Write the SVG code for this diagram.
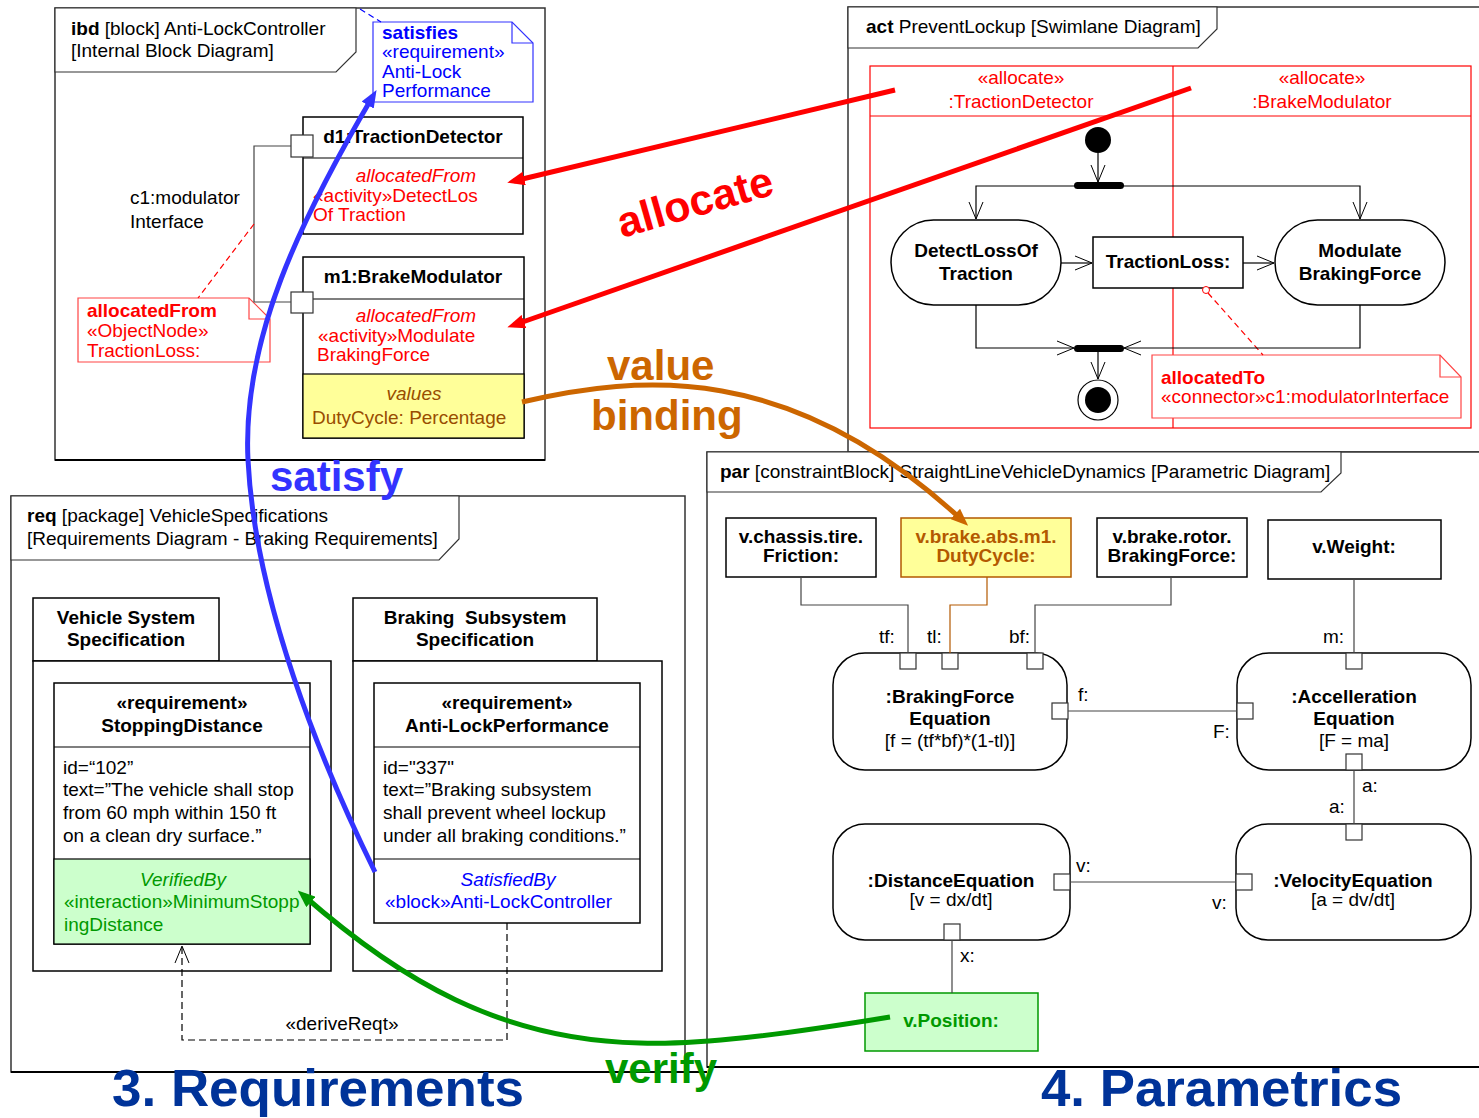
<svg xmlns="http://www.w3.org/2000/svg" width="1479" height="1118" viewBox="0 0 1479 1118">
  <defs>
    <style>
      text { font-family: "Liberation Sans", Arial, sans-serif; font-size: 19px; fill: #000; }
      .b { font-weight: bold; }
      .i { font-style: italic; }
      .c { text-anchor: middle; }
      .red { fill: #ff0000; }
      .blue { fill: #0000ff; }
      .green { fill: #009900; }
      .brown { fill: #994d00; }
      .frame { fill: #fff; stroke: #333; stroke-width: 1.5; }
      .tab { fill: #fff; stroke: #333; stroke-width: 1.2; }
      .box { fill: #fff; stroke: #000; stroke-width: 1.5; }
      .sep { stroke: #000; stroke-width: 1.2; fill: none; }
      .port { fill: #fff; stroke: #333; stroke-width: 1.2; }
      .wire { fill: none; stroke: #444; stroke-width: 1.2; }
      .flow { fill: none; stroke: #000; stroke-width: 1.2; }
      .big { font-weight: bold; }
    </style>
    <marker id="open" viewBox="-1 -8 19 16" refX="17" refY="0" markerWidth="19" markerHeight="16" markerUnits="userSpaceOnUse" orient="auto">
      <path d="M0,-7 L17,0 L0,7" fill="none" stroke="#000" stroke-width="1" stroke-dasharray="none"/>
    </marker>
    <marker id="ar-red" viewBox="0 0 10 8" refX="6" refY="4" markerWidth="3.5" markerHeight="2.8" orient="auto">
      <path d="M0,0 L10,4 L0,8 z" fill="#ff0000"/>
    </marker>
    <marker id="ar-orange" viewBox="0 0 10 8" refX="6" refY="4" markerWidth="3.5" markerHeight="2.8" orient="auto">
      <path d="M0,0 L10,4 L0,8 z" fill="#cc6600"/>
    </marker>
    <marker id="ar-blue" viewBox="0 0 10 8" refX="6" refY="4" markerWidth="3.5" markerHeight="2.8" orient="auto">
      <path d="M0,0 L10,4 L0,8 z" fill="#3333ff"/>
    </marker>
    <marker id="ar-green" viewBox="0 0 10 8" refX="6" refY="4" markerWidth="3.5" markerHeight="2.8" orient="auto">
      <path d="M0,0 L10,4 L0,8 z" fill="#009900"/>
    </marker>
  </defs>

  <rect width="1479" height="1118" fill="#fff"/>

  <!-- ===== Activity diagram frame ===== -->
  <g id="act-frame">
    <rect class="frame" x="848" y="7" width="660" height="445"/>
    <path class="tab" d="M848,7 H1217 V29 L1198,48 H848 Z"/>
    <text x="866" y="33"><tspan class="b">act</tspan> PreventLockup [Swimlane Diagram]</text>
  </g>

  <!-- swimlanes -->
  <g id="swimlanes">
    <rect x="870" y="66" width="601" height="362" fill="none" stroke="#ff0000" stroke-width="1.2"/>
    <line x1="870" y1="116" x2="1471" y2="116" stroke="#ff0000" stroke-width="1"/>
    <line x1="1173" y1="66" x2="1173" y2="428" stroke="#ff0000" stroke-width="1.2"/>
    <text class="c red" x="1021" y="84">«allocate»</text>
    <text class="c red" x="1021" y="108">:TractionDetector</text>
    <text class="c red" x="1322" y="84">«allocate»</text>
    <text class="c red" x="1322" y="108">:BrakeModulator</text>
  </g>

  <!-- ===== Internal block diagram frame ===== -->
  <g id="ibd-frame">
    <rect class="frame" x="55" y="8" width="490" height="452"/>
    <line x1="55" y1="460" x2="545" y2="460" stroke="#000" stroke-width="2"/>
    <path class="tab" d="M55,8 H356 V52 L336,72 H55 Z"/>
    <text x="71" y="35"><tspan class="b">ibd</tspan> [block] Anti-LockController</text>
    <text x="71" y="57">[Internal Block Diagram]</text>
  </g>

  <!-- ===== Requirements frame ===== -->
  <g id="req-frame">
    <rect class="frame" x="11" y="496" width="674" height="576"/>
    <line x1="11" y1="1072" x2="707" y2="1072" stroke="#000" stroke-width="2"/>
    <path class="tab" d="M11,496 H459 V539 L439,560 H11 Z"/>
    <text x="27" y="522"><tspan class="b">req</tspan> [package] VehicleSpecifications</text>
    <text x="27" y="545">[Requirements Diagram - Braking Requirements]</text>
  </g>

  <!-- ===== Parametric frame ===== -->
  <g id="par-frame">
    <rect class="frame" x="707" y="452" width="800" height="615"/>
    <line x1="707" y1="1067" x2="1479" y2="1067" stroke="#000" stroke-width="2"/>
    <path class="tab" d="M707,452 H1341 V473 L1321,492 H707 Z"/>
    <text x="720" y="478"><tspan class="b">par</tspan> [constraintBlock] StraightLineVehicleDynamics [Parametric Diagram]</text>
  </g>

  <!-- ===== IBD nodes ===== -->
  <g id="satisfies-note">
    <path d="M373,22 H512 L533,43 V102 H373 Z" fill="#fff" stroke="#3333ff" stroke-width="1.2"/>
    <path d="M512,22 V43 H533" fill="none" stroke="#3333ff" stroke-width="1.2"/>
    <text class="b blue" x="382" y="39">satisfies</text>
    <text class="blue" x="382" y="58">«requirement»</text>
    <text class="blue" x="382" y="78">Anti-Lock</text>
    <text class="blue" x="382" y="97">Performance</text>
  </g>

  <g id="d1-traction-detector">
    <rect class="box" x="303" y="117" width="220" height="117"/>
    <line class="sep" x1="303" y1="158" x2="523" y2="158"/>
    <text class="b c" x="413" y="143">d1:TractionDetector</text>
    <text class="i c red" x="416" y="182">allocatedFrom</text>
    <text class="red" x="313" y="202">«activity»DetectLos</text>
    <text class="red" x="313" y="221">Of Traction</text>
    <rect class="port" x="291" y="135" width="22" height="22"/>
  </g>

  <g id="m1-brake-modulator">
    <rect class="box" x="303" y="257" width="221" height="181"/>
    <rect x="303" y="374" width="221" height="64" fill="#ffff99" stroke="#000" stroke-width="1.2"/>
    <line class="sep" x1="303" y1="299" x2="524" y2="299"/>
    <text class="b c" x="413" y="283">m1:BrakeModulator</text>
    <text class="i c red" x="416" y="322">allocatedFrom</text>
    <text class="red" x="318" y="342">«activity»Modulate</text>
    <text class="red" x="317" y="361">BrakingForce</text>
    <text class="i c brown" x="414" y="400">values</text>
    <text class="brown" x="312" y="424">DutyCycle: Percentage</text>
    <rect class="port" x="291" y="292" width="22" height="21"/>
  </g>

  <g id="c1-label">
    <text x="130" y="204">c1:modulator</text>
    <text x="130" y="228">Interface</text>
  </g>

  <g id="allocatedfrom-note">
    <path d="M78,298 H249 L270,319 V362 H78 Z" fill="#fff" stroke="#ff4444" stroke-width="1.2"/>
    <path d="M249,298 V319 H270" fill="none" stroke="#ff4444" stroke-width="1.2"/>
    <text class="b red" x="87" y="317">allocatedFrom</text>
    <text class="red" x="87" y="337">«ObjectNode»</text>
    <text class="red" x="87" y="357">TractionLoss:</text>
  </g>

  <!-- ===== Activity nodes ===== -->
  <g id="initial-node">
    <circle cx="1098" cy="140" r="13" fill="#000"/>
  </g>
  <g id="fork-bar">
    <rect x="1074" y="182" width="50" height="7" rx="3.5" fill="#000"/>
  </g>
  <g id="detect-loss-of-traction">
    <rect class="box" x="891" y="220" width="170" height="85" rx="42.5"/>
    <text class="b c" x="976" y="257">DetectLossOf</text>
    <text class="b c" x="976" y="280">Traction</text>
  </g>
  <g id="traction-loss">
    <rect class="box" x="1093" y="237" width="150" height="51"/>
    <text class="b c" x="1168" y="268">TractionLoss:</text>
  </g>
  <g id="modulate-braking-force">
    <rect class="box" x="1275" y="220" width="170" height="85" rx="42.5"/>
    <text class="b c" x="1360" y="257">Modulate</text>
    <text class="b c" x="1360" y="280">BrakingForce</text>
  </g>
  <g id="join-bar">
    <rect x="1074" y="345" width="50" height="7" rx="3.5" fill="#000"/>
  </g>
  <g id="final-node">
    <circle cx="1098" cy="400" r="20" fill="#fff" stroke="#000" stroke-width="1.2"/>
    <circle cx="1098" cy="400" r="13" fill="#000"/>
  </g>
  <g id="allocatedto-note">
    <path d="M1152,355 H1440 L1461,377 V418 H1152 Z" fill="#fff" stroke="#ff4444" stroke-width="1.2"/>
    <path d="M1440,355 V377 H1461" fill="none" stroke="#ff4444" stroke-width="1.2"/>
    <text class="b red" x="1161" y="384">allocatedTo</text>
    <text class="red" x="1161" y="403">«connector»c1:modulatorInterface</text>
  </g>

  <!-- ===== Parametric nodes ===== -->
  <g id="v-friction">
    <rect class="box" x="726" y="518" width="150" height="59"/>
    <text class="b c" x="801" y="543">v.chassis.tire.</text>
    <text class="b c" x="801" y="562">Friction:</text>
  </g>
  <g id="v-dutycycle">
    <rect x="901" y="518" width="170" height="59" fill="#ffff99" stroke="#b35900" stroke-width="1.5"/>
    <text class="b c" x="986" y="543" style="fill:#b35900">v.brake.abs.m1.</text>
    <text class="b c" x="986" y="562" style="fill:#b35900">DutyCycle:</text>
  </g>
  <g id="v-brakingforce">
    <rect class="box" x="1097" y="518" width="150" height="59"/>
    <text class="b c" x="1172" y="543">v.brake.rotor.</text>
    <text class="b c" x="1172" y="562">BrakingForce:</text>
  </g>
  <g id="v-weight">
    <rect class="box" x="1268" y="520" width="173" height="59"/>
    <text class="b c" x="1354" y="553">v.Weight:</text>
  </g>

  <g id="param-labels">
    <text x="879" y="643">tf:</text>
    <text x="927" y="643">tl:</text>
    <text x="1009" y="643">bf:</text>
    <text x="1323" y="643">m:</text>
    <text x="1078" y="701">f:</text>
    <text x="1213" y="738">F:</text>
    <text x="1362" y="792">a:</text>
    <text x="1329" y="813">a:</text>
    <text x="1076" y="872">v:</text>
    <text x="1212" y="909">v:</text>
    <text x="960" y="962">x:</text>
  </g>

  <g id="braking-force-equation">
    <rect class="box" x="833" y="653" width="234" height="117" rx="32"/>
    <text class="b c" x="950" y="703">:BrakingForce</text>
    <text class="b c" x="950" y="725">Equation</text>
    <text class="c" x="950" y="747">[f = (tf*bf)*(1-tl)]</text>
    <rect class="port" x="900" y="653" width="16" height="16"/>
    <rect class="port" x="942" y="653" width="16" height="16"/>
    <rect class="port" x="1027" y="653" width="16" height="16"/>
    <rect class="port" x="1052" y="703" width="16" height="16"/>
  </g>
  <g id="acceleration-equation">
    <rect class="box" x="1237" y="653" width="234" height="117" rx="32"/>
    <text class="b c" x="1354" y="703">:Accelleration</text>
    <text class="b c" x="1354" y="725">Equation</text>
    <text class="c" x="1354" y="747">[F = ma]</text>
    <rect class="port" x="1346" y="653" width="16" height="16"/>
    <rect class="port" x="1237" y="703" width="16" height="16"/>
    <rect class="port" x="1346" y="754" width="16" height="16"/>
  </g>
  <g id="distance-equation">
    <rect class="box" x="833" y="824" width="237" height="116" rx="32"/>
    <text class="b c" x="951" y="887">:DistanceEquation</text>
    <text class="c" x="951" y="906">[v = dx/dt]</text>
    <rect class="port" x="1054" y="874" width="16" height="16"/>
    <rect class="port" x="944" y="924" width="16" height="16"/>
  </g>
  <g id="velocity-equation">
    <rect class="box" x="1236" y="824" width="235" height="116" rx="32"/>
    <text class="b c" x="1353" y="887">:VelocityEquation</text>
    <text class="c" x="1353" y="906">[a = dv/dt]</text>
    <rect class="port" x="1346" y="824" width="16" height="16"/>
    <rect class="port" x="1236" y="874" width="16" height="16"/>
  </g>
  <g id="v-position">
    <rect x="865" y="993" width="173" height="58" fill="#ccffcc" stroke="#009900" stroke-width="1.5"/>
    <text class="b c green" x="951" y="1027">v.Position:</text>
  </g>

  <!-- ===== Requirement nodes ===== -->
  <g id="vehicle-system-spec">
    <rect class="box" x="33" y="598" width="186" height="63"/>
    <rect class="box" x="33" y="661" width="298" height="310"/>
    <text class="b c" x="126" y="624">Vehicle System</text>
    <text class="b c" x="126" y="646">Specification</text>
  </g>
  <g id="braking-subsystem-spec">
    <rect class="box" x="353" y="598" width="244" height="63"/>
    <rect class="box" x="353" y="661" width="309" height="310"/>
    <text class="b c" x="475" y="624" xml:space="preserve">Braking  Subsystem</text>
    <text class="b c" x="475" y="646">Specification</text>
  </g>
  <g id="stopping-distance">
    <rect class="box" x="54" y="683" width="256" height="261"/>
    <rect x="54" y="859" width="256" height="85" fill="#ccffcc" stroke="#000" stroke-width="1.2"/>
    <line class="sep" x1="54" y1="747" x2="310" y2="747"/>
    <text class="b c" x="182" y="709">«requirement»</text>
    <text class="b c" x="182" y="732">StoppingDistance</text>
    <text x="63" y="774">id=“102”</text>
    <text x="63" y="796">text=”The vehicle shall stop</text>
    <text x="63" y="819">from 60 mph within 150 ft</text>
    <text x="63" y="842">on a clean dry surface.”</text>
    <text class="i c green" x="183" y="886">VerifiedBy</text>
    <text class="green" x="64" y="908">«interaction»MinimumStopp</text>
    <text class="green" x="64" y="931">ingDistance</text>
  </g>
  <g id="anti-lock-performance">
    <rect class="box" x="374" y="683" width="266" height="240"/>
    <line class="sep" x1="374" y1="747" x2="640" y2="747"/>
    <line class="sep" x1="374" y1="859" x2="640" y2="859"/>
    <text class="b c" x="507" y="709">«requirement»</text>
    <text class="b c" x="507" y="732">Anti-LockPerformance</text>
    <text x="383" y="774">id="337"</text>
    <text x="383" y="796">text=”Braking subsystem</text>
    <text x="383" y="819">shall prevent wheel lockup</text>
    <text x="383" y="842">under all braking conditions.”</text>
    <text class="i c blue" x="508" y="886">SatisfiedBy</text>
    <text class="blue" x="385" y="908">«block»Anti-LockController</text>
  </g>
  <g id="derive-label">
    <text class="c" x="342" y="1030">«deriveReqt»</text>
  </g>

  <!-- ===== Connectors (drawn over the node bodies they cross) ===== -->
  <g id="connectors">
    <!-- ibd: c1 modulator interface -->
    <path class="wire" d="M291,146 H254 V302 H291"/>
    <!-- note anchors -->
    <path d="M254,224 L198,298" fill="none" stroke="#ff0000" stroke-width="1.2" stroke-dasharray="6,4"/>
    <path d="M360,9 L381,22" fill="none" stroke="#0000ff" stroke-width="1.2" stroke-dasharray="6,4"/>
    <circle cx="1206" cy="290" r="3.5" fill="#fff" stroke="#ff0000" stroke-width="1"/>
    <path d="M1208,293 L1263,355" fill="none" stroke="#ff0000" stroke-width="1.2" stroke-dasharray="6,4"/>

    <!-- activity flows -->
    <path class="flow" d="M1098,153 V182" marker-end="url(#open)"/>
    <path class="flow" d="M1098,186 H976 V219" marker-end="url(#open)"/>
    <path class="flow" d="M1098,186 H1360 V219" marker-end="url(#open)"/>
    <path class="flow" d="M1061,263 H1092" marker-end="url(#open)"/>
    <path class="flow" d="M1243,263 H1274" marker-end="url(#open)"/>
    <path class="flow" d="M976,305 V348 H1074" marker-end="url(#open)"/>
    <path class="flow" d="M1360,305 V348 H1124" marker-end="url(#open)"/>
    <path class="flow" d="M1098,351 V379" marker-end="url(#open)"/>

    <!-- parametric bindings -->
    <path class="wire" d="M801,577 V605 H908 V653"/>
    <path d="M987,577 V605 H950 V653" fill="none" stroke="#b35900" stroke-width="1.2"/>
    <path class="wire" d="M1171,577 V605 H1035 V653"/>
    <path class="wire" d="M1354,579 V653"/>
    <path class="wire" d="M1068,711 H1237"/>
    <path class="wire" d="M1354,770 V824"/>
    <path class="wire" d="M1070,882 H1236"/>
    <path class="wire" d="M952,940 V993"/>

    <!-- deriveReqt -->
    <path d="M507,923 V1040 H182 V946" fill="none" stroke="#000" stroke-width="1.2" stroke-dasharray="7,4" marker-end="url(#open)"/>
  </g>

  <!-- ===== Cross-view relationships ===== -->
  <g id="relationships">
    <path d="M895,90 L514,181" fill="none" stroke="#ff0000" stroke-width="5" marker-end="url(#ar-red)"/>
    <path d="M1191,88 L514,325" fill="none" stroke="#ff0000" stroke-width="5" marker-end="url(#ar-red)"/>
    <path d="M522,402 C640,375 790,360 963,521" fill="none" stroke="#cc6600" stroke-width="5" marker-end="url(#ar-orange)"/>
    <path d="M375,872 C320,760 255,600 248,460 C242,340 300,220 373,96" fill="none" stroke="#3333ff" stroke-width="5" marker-end="url(#ar-blue)"/>
    <path d="M890,1017 C780,1035 700,1045 640,1043 C500,1040 400,980 303,895" fill="none" stroke="#009900" stroke-width="5" marker-end="url(#ar-green)"/>
  </g>

  <!-- relationship labels -->
  <g id="relationship-labels">
    <text class="big" x="622" y="238" transform="rotate(-16 622 238)" style="font-size:43px;fill:#ff0000">allocate</text>
    <text class="big" x="607" y="380" style="font-size:42px;fill:#cc6600">value</text>
    <text class="big" x="591" y="430" style="font-size:42px;fill:#cc6600">binding</text>
    <text class="big" x="270" y="491" style="font-size:42px;fill:#3333ff">satisfy</text>
    <text class="big" x="605" y="1083" style="font-size:42px;fill:#009900">verify</text>
  </g>

  <!-- section titles -->
  <g id="section-titles">
    <text class="big" x="112" y="1106" textLength="412" lengthAdjust="spacingAndGlyphs" style="font-size:52px;fill:#003399">3. Requirements</text>
    <text class="big" x="1041" y="1106" textLength="361" lengthAdjust="spacingAndGlyphs" style="font-size:52px;fill:#003399">4. Parametrics</text>
  </g>
</svg>
